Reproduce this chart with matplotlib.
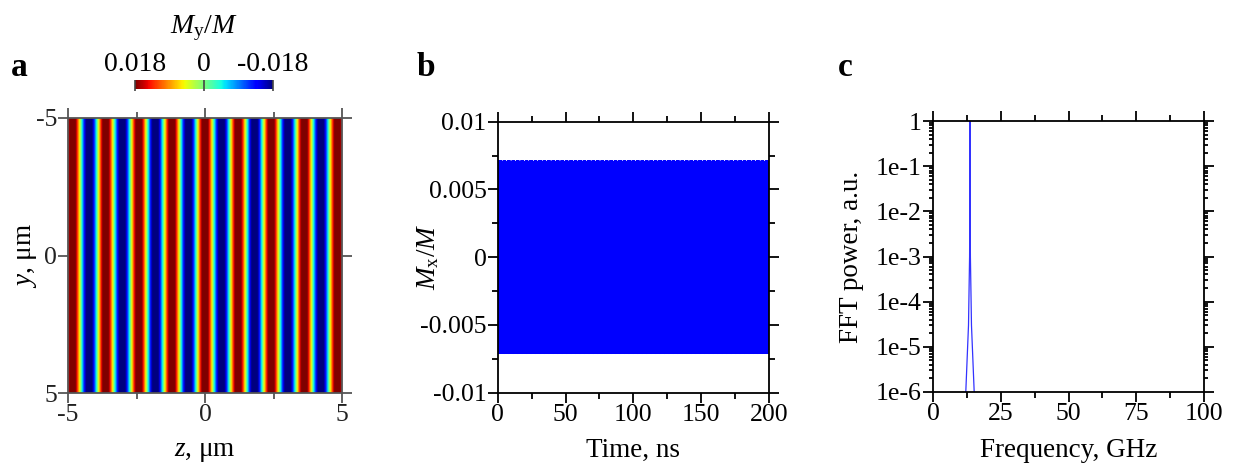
import numpy as np
import matplotlib.pyplot as plt
from matplotlib.ticker import FixedLocator, MultipleLocator, LogLocator, NullFormatter

plt.rcParams["font.family"] = "Liberation Serif"
plt.rcParams["mathtext.fontset"] = "custom"
plt.rcParams["mathtext.rm"] = "Liberation Serif"
plt.rcParams["mathtext.it"] = "Liberation Serif:italic"
plt.rcParams["axes.unicode_minus"] = False
plt.rcParams["font.size"] = 18

# =========================
# Data
# =========================
# panel a: standing stripe pattern of My/M
z_range = [-5, 5]
y_range = [-5, 5]
stripe_wavelength_um = 1.21
stripe_amplitude = 0.021
cbar_limit = 0.018

# panel b: Mx/M time trace
time_end_ns = 200
osc_freq_ghz = 13.65
osc_amplitude = 0.0071

# panel c: FFT spectrum around the peak
fft_freq = [12.1, 13.1, 13.5, 13.6, 13.65, 13.7, 13.8, 14.2, 15.2]
fft_power = [1e-6, 3e-5, 1e-3, 2e-2, 1.0, 2e-2, 1e-3, 3e-5, 1e-6]

W, H = 1236, 470
TICK_FS = 18.5
LABEL_FS = 19.5
fig = plt.figure(figsize=(W / 100, H / 100), dpi=100)

def box(x0, y0, x1, y1):
    return [x0 / W, 1 - y1 / H, (x1 - x0) / W, (y1 - y0) / H]

def style_ticks(ax, color="black"):
    ax.tick_params(which="both", direction="out", top=True, right=True,
                   color=color, width=1.3, labelsize=TICK_FS, pad=1)
    ax.tick_params(which="major", length=7)
    ax.tick_params(which="minor", length=4)
    for s in ax.spines.values():
        s.set_color(color)
        s.set_linewidth(1.3)

# =========================
# a. stripe map
# =========================
ax_a = fig.add_axes(box(68, 118, 342, 393))
z = np.linspace(z_range[0], z_range[1], 600)
y = np.linspace(y_range[0], y_range[1], 50)
Z, Y = np.meshgrid(z, y)
field = np.clip(stripe_amplitude * np.cos(2 * np.pi * Z / stripe_wavelength_um), -cbar_limit, cbar_limit)
im = ax_a.imshow(field, cmap="jet", vmin=-cbar_limit, vmax=cbar_limit, aspect="auto",
                 extent=[z_range[0], z_range[1], y_range[1], y_range[0]], interpolation="bilinear")
ax_a.set_xlim(-5, 5)
ax_a.set_ylim(5, -5)
ax_a.xaxis.set_major_locator(FixedLocator([-5, 0, 5]))
ax_a.xaxis.set_minor_locator(FixedLocator([-2.5, 2.5]))
ax_a.yaxis.set_major_locator(FixedLocator([-5, 0, 5]))
style_ticks(ax_a, color="#555555")
ax_a.tick_params(labelcolor="#222222")
ax_a.set_xlabel(r"$z$, μm", fontsize=LABEL_FS, labelpad=9)
ax_a.set_ylabel(r"$y$, μm", fontsize=LABEL_FS)
ax_a.yaxis.set_label_coords((39 - 68) / 274, 0.5)

cax = fig.add_axes(box(135, 80, 273, 89))
cb = fig.colorbar(im, cax=cax, orientation="horizontal")
cax.invert_xaxis()
cb.set_ticks([cbar_limit, 0, -cbar_limit])
cb.set_ticklabels(["0.018", "0", "-0.018"])
cax.xaxis.set_ticks_position("top")
cax.tick_params(direction="in", length=8, width=1.2, labelsize=20, pad=2, color="#444444")
cb.outline.set_visible(False)
fig.text(204 / W, 1 - 28 / H, r"$M_\mathrm{y}/M$", ha="center", va="center", fontsize=20)

# =========================
# b. time trace
# =========================
ax_b = fig.add_axes(box(497.7, 121.7, 769, 392.7))
t = np.linspace(0, time_end_ns, 60000)
mx = osc_amplitude * np.sin(2 * np.pi * osc_freq_ghz * t)
ax_b.plot(t, mx, color="#0000ff", linewidth=1.0)
ax_b.set_xlim(0, 200)
ax_b.set_ylim(-0.01, 0.01)
ax_b.xaxis.set_major_locator(MultipleLocator(50))
ax_b.xaxis.set_minor_locator(MultipleLocator(25))
ax_b.yaxis.set_major_locator(FixedLocator([-0.01, -0.005, 0, 0.005, 0.01]))
ax_b.yaxis.set_minor_locator(FixedLocator([-0.0075, -0.0025, 0.0025, 0.0075]))
ax_b.set_yticklabels(["-0.01", "-0.005", "0", "0.005", "0.01"])
style_ticks(ax_b)
ax_b.set_xlabel("Time, ns", fontsize=LABEL_FS, labelpad=9)
ax_b.set_ylabel(r"$M_\mathrm{x}/M$", fontsize=LABEL_FS)
ax_b.yaxis.set_label_coords((441 - 497.7) / 271.3, 0.5)

# =========================
# c. FFT spectrum
# =========================
ax_c = fig.add_axes(box(933, 121, 1204, 392))
ax_c.plot(fft_freq, fft_power, color="#3333ff", linewidth=0.9)
ax_c.set_yscale("log")
ax_c.set_xlim(0, 100)
ax_c.set_ylim(1e-6, 1)
ax_c.xaxis.set_major_locator(MultipleLocator(25))
ax_c.xaxis.set_minor_locator(MultipleLocator(12.5))
decades = [1e-6, 1e-5, 1e-4, 1e-3, 1e-2, 1e-1, 1]
ax_c.yaxis.set_major_locator(FixedLocator(decades))
ax_c.yaxis.set_minor_locator(LogLocator(base=10, subs=np.arange(2, 10), numticks=20))
ax_c.yaxis.set_minor_formatter(NullFormatter())
ax_c.set_yticklabels(["1e-6", "1e-5", "1e-4", "1e-3", "1e-2", "1e-1", "1"])
style_ticks(ax_c)
ax_c.tick_params(which="minor", axis="y", length=3)
ax_c.set_xlabel("Frequency, GHz", fontsize=LABEL_FS, labelpad=9)
ax_c.set_ylabel("FFT power, a.u.", fontsize=LABEL_FS)
ax_c.yaxis.set_label_coords((864 - 933) / 271, 0.5)

# panel letters
for letter, x in [("a", 19), ("b", 426), ("c", 845)]:
    fig.text(x / W, 1 - 67 / H, letter, ha="center", va="center", fontsize=24, fontweight="bold")

fig.savefig("out.png", dpi=100)
